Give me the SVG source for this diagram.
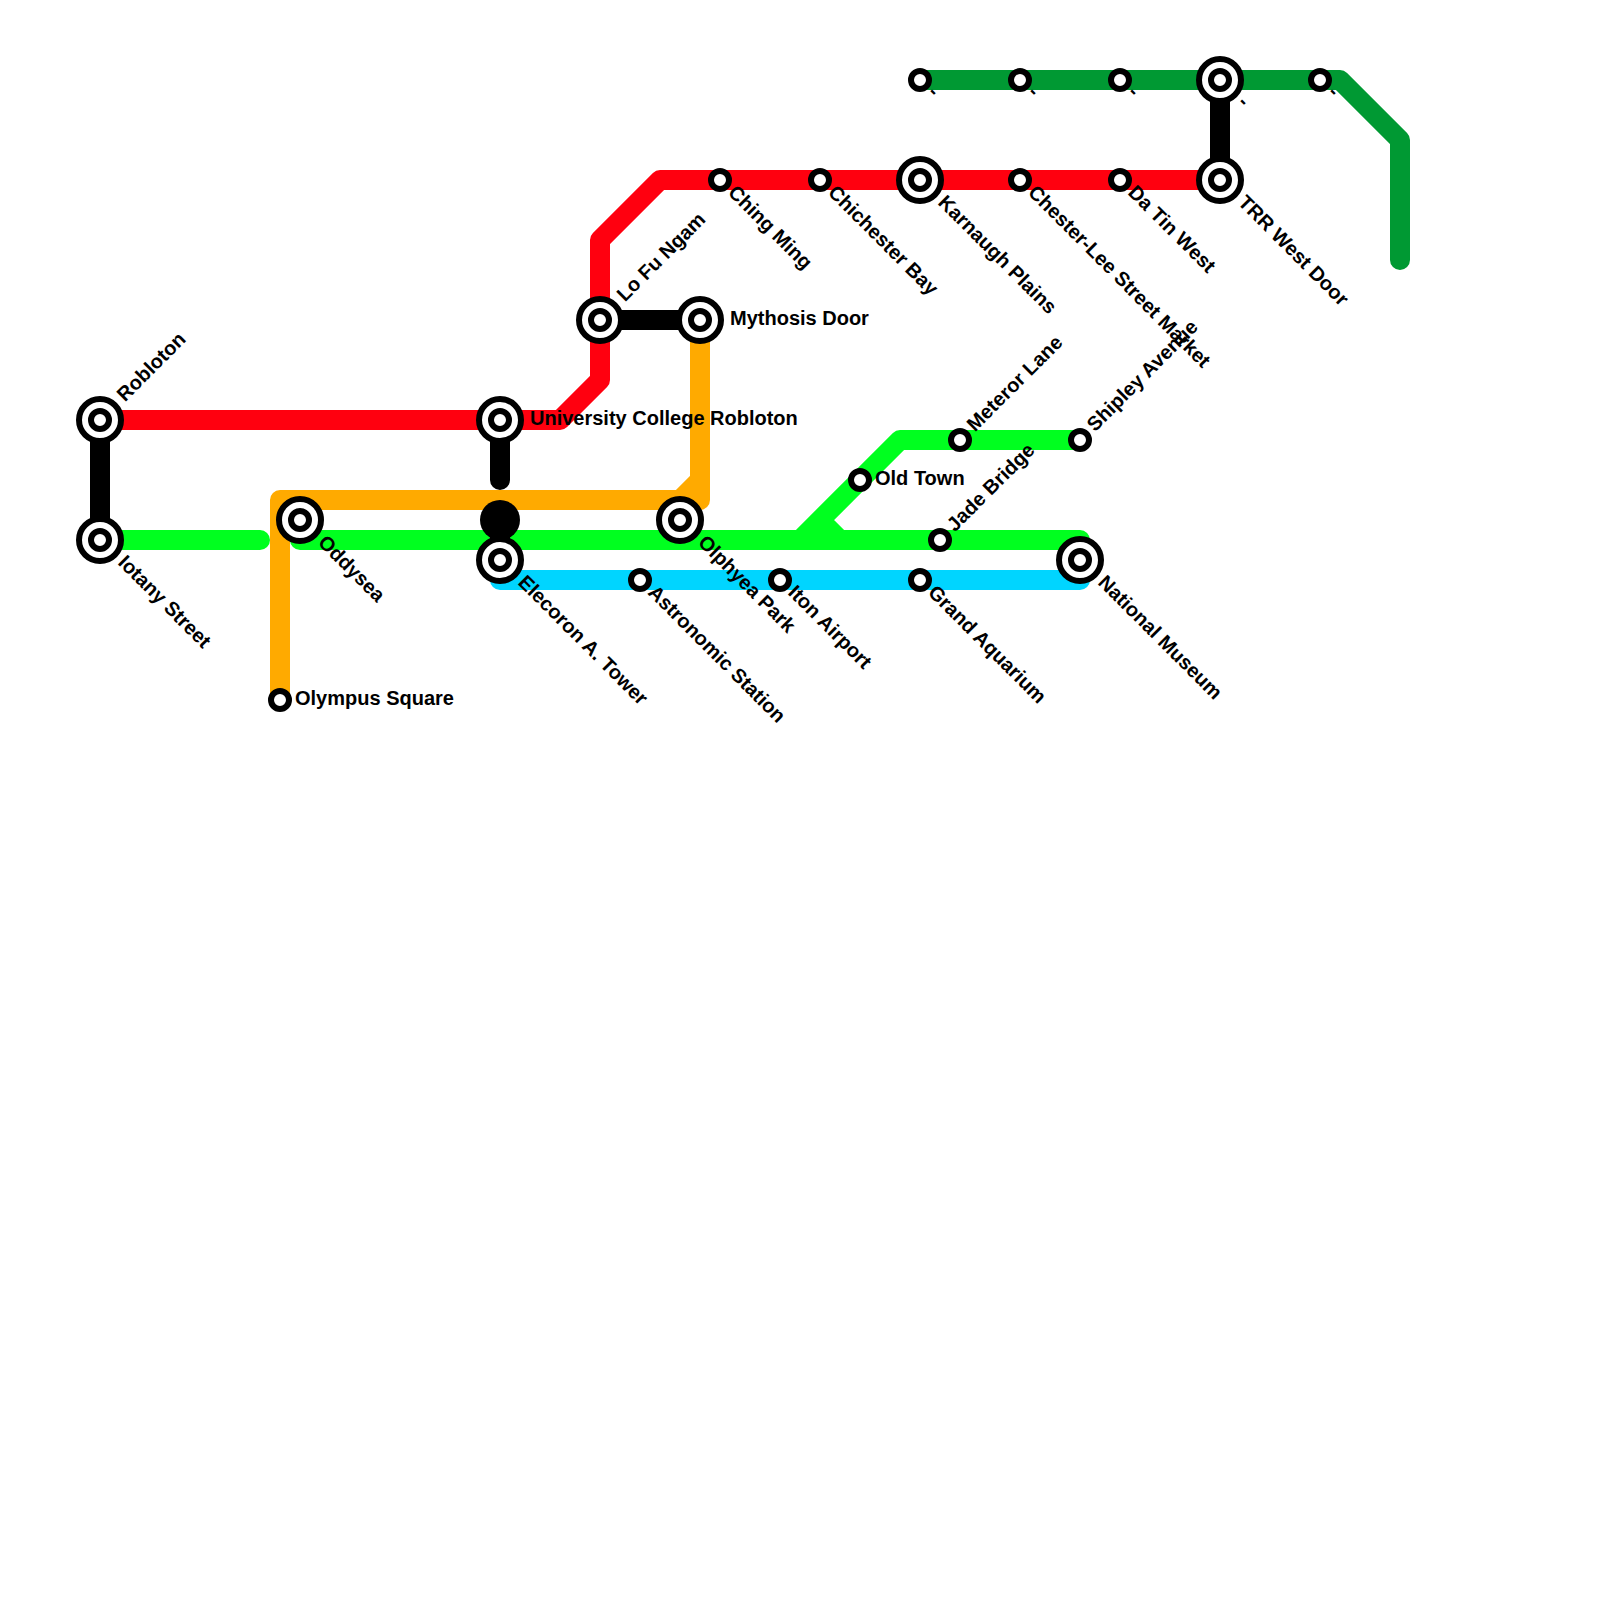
<svg xmlns="http://www.w3.org/2000/svg" width="1600" height="1600" viewBox="0 0 1600 1600">
<style>
.l{fill:none;stroke-width:20;stroke-linecap:round;stroke-linejoin:round}
.ring{fill:#fff;stroke:#000;stroke-width:6}
.core{fill:#fff;stroke:#000;stroke-width:6}
text{font-family:"Liberation Sans",Arial,sans-serif;font-weight:bold;font-size:20px;fill:#000}
</style>
<defs>
<g id="big"><circle class="ring" r="21"/><circle class="core" r="9"/></g>
<g id="small"><circle class="core" r="9"/></g>
</defs>
<rect width="1600" height="1600" fill="#fff"/>
<g id="connectors">
<path class="l" stroke="#009933" d="M920 80H1340L1400 140V260"/>
<path class="l" stroke="#00d5ff" d="M500 560V580H1080V560"/>
<path class="l" stroke="#00ff1f" d="M100 540H260M300 540H1080V560M800 540L900 440H1080M820 520L840 540"/>
<path class="l" stroke="#ff000f" d="M100 420H560L600 380V240L660 180H1220"/>
<path class="l" stroke="#ffaa00" d="M700 320V500H280V700M680 500L700 480"/>
<path class="l" stroke="#000" d="M100 420V540M500 420V480M500 520V560M600 320H700M1220 80V180"/>
<circle cx="500" cy="520" r="20" fill="#000"/>
</g>
<g id="robloton"><use href="#big" x="100" y="420"/><text transform="translate(120,397.5) rotate(-45)" y="7">Robloton</text></g>
<g id="iotany-street"><use href="#big" x="100" y="540"/><text transform="translate(122,558.5) rotate(45)" y="7">Iotany Street</text></g>
<g id="oddysea"><use href="#big" x="300" y="520"/><text transform="translate(322,538.5) rotate(45)" y="7">Oddysea</text></g>
<g id="olympus-square"><use href="#small" x="280" y="700"/><text x="295" y="705">Olympus Square</text></g>
<g id="university-college-robloton"><use href="#big" x="500" y="420"/><text x="530" y="425">University College Robloton</text></g>
<g id="elecoron-a-tower"><use href="#big" x="500" y="560"/><text transform="translate(522,578.5) rotate(45)" y="7">Elecoron A. Tower</text></g>
<g id="lo-fu-ngam"><use href="#big" x="600" y="320"/><text transform="translate(620,297.5) rotate(-45)" y="7">Lo Fu Ngam</text></g>
<g id="mythosis-door"><use href="#big" x="700" y="320"/><text x="730" y="325">Mythosis Door</text></g>
<g id="olphyea-park"><use href="#big" x="680" y="520"/><text transform="translate(702,538.5) rotate(45)" y="7">Olphyea Park</text></g>
<g id="astronomic-station"><use href="#small" x="640" y="580"/><text transform="translate(652,588.5) rotate(45)" y="7">Astronomic Station</text></g>
<g id="iton-airport"><use href="#small" x="780" y="580"/><text transform="translate(792,588.5) rotate(45)" y="7">Iton Airport</text></g>
<g id="grand-aquarium"><use href="#small" x="920" y="580"/><text transform="translate(932,588.5) rotate(45)" y="7">Grand Aquarium</text></g>
<g id="national-museum"><use href="#big" x="1080" y="560"/><text transform="translate(1102,578.5) rotate(45)" y="7">National Museum</text></g>
<g id="jade-bridge"><use href="#small" x="940" y="540"/><text transform="translate(950,527.5) rotate(-45)" y="7">Jade Bridge</text></g>
<g id="old-town"><use href="#small" x="860" y="480"/><text x="875" y="485">Old Town</text></g>
<g id="meteror-lane"><use href="#small" x="960" y="440"/><text transform="translate(970,427.5) rotate(-45)" y="7">Meteror Lane</text></g>
<g id="shipley-avenue"><use href="#small" x="1080" y="440"/><text transform="translate(1090,427.5) rotate(-45)" y="7">Shipley Avenue</text></g>
<g id="ching-ming"><use href="#small" x="720" y="180"/><text transform="translate(732,188.5) rotate(45)" y="7">Ching Ming</text></g>
<g id="chichester-bay"><use href="#small" x="820" y="180"/><text transform="translate(832,188.5) rotate(45)" y="7">Chichester Bay</text></g>
<g id="karnaugh-plains"><use href="#big" x="920" y="180"/><text transform="translate(942,198.5) rotate(45)" y="7">Karnaugh Plains</text></g>
<g id="chester-lee-street-market"><use href="#small" x="1020" y="180"/><text transform="translate(1032,188.5) rotate(45)" y="7">Chester-Lee Street Market</text></g>
<g id="da-tin-west"><use href="#small" x="1120" y="180"/><text transform="translate(1132,188.5) rotate(45)" y="7">Da Tin West</text></g>
<g id="trr-west-door"><use href="#big" x="1220" y="180"/><text transform="translate(1242,198.5) rotate(45)" y="7">TRR West Door</text></g>
<g id="dg1"><use href="#small" x="920" y="80"/><text transform="translate(932,88.5) rotate(45)" y="7">-</text></g>
<g id="dg2"><use href="#small" x="1020" y="80"/><text transform="translate(1032,88.5) rotate(45)" y="7">-</text></g>
<g id="dg3"><use href="#small" x="1120" y="80"/><text transform="translate(1132,88.5) rotate(45)" y="7">-</text></g>
<g id="dg4"><use href="#big" x="1220" y="80"/><text transform="translate(1242,98.5) rotate(45)" y="7">-</text></g>
<g id="dg5"><use href="#small" x="1320" y="80"/><text transform="translate(1332,88.5) rotate(45)" y="7">-</text></g>
</svg>
